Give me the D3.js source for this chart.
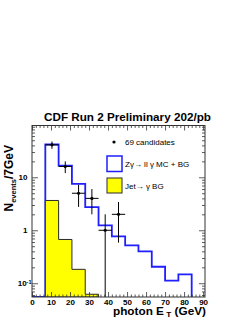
<!DOCTYPE html>
<html>
<head>
<meta charset="utf-8">
<script src="https://cdn.jsdelivr.net/npm/d3@7"></script>
<style>
  html, body { margin: 0; padding: 0; background: #fff; }
  svg { display: block; font-family: "Liberation Sans", Arial, Helvetica, sans-serif; }
</style>
</head>
<body>
<svg id="chart" width="246" height="319"></svg>
<script>
// ---- data ----
const binLowEdges = [7, 14, 21, 28, 35, 42, 49, 56, 63, 70, 77];
const binWidth = 7;
const zgammaMC = [41.6, 16.6, 7.5, 2.74, 1.24, 0.77, 0.52, 0.40, 0.205, 0.112, 0.147];
const jetBG = [3.65, 0.67, 0.183, 0.062];
const dataCenters = [10.5, 17.5, 24.5, 31.5, 38.5, 45.5];
const dataCounts = [41, 16, 5, 4, 1, 2];
const xTickValues = [0, 10, 20, 30, 40, 50, 60, 70, 80, 90];
const yTickValues = [0.1, 1, 10];
const legendLabels = ["69 candidates", "Z\u03b3\u2192 ll \u03b3 MC + BG", "Jet\u2192 \u03b3 BG"];
const titleText = "CDF Run 2 Preliminary 202/pb";

// ---- layout ----
const L = 32, R = 205, T = 125.5, B = 297;
const svg = d3.select("#chart");
const x = d3.scaleLinear().domain([0, 91]).range([L, R]);
const y = d3.scaleLog().domain([0.055, 95]).range([B, T]);
const yMin = y.domain()[0];
const blue = "#1f1fff";
const axisCol = "#333";

svg.append("defs").append("clipPath").attr("id", "plotclip")
  .append("rect").attr("x", L).attr("y", T).attr("width", R - L).attr("height", B - T);

const plot = svg.append("g").attr("clip-path", "url(#plotclip)");
const line = d3.line().x(d => x(d[0])).y(d => y(d[1]));

// blue histogram (Z gamma MC + BG)
const bluePts = [[0, yMin], [binLowEdges[0], yMin]];
zgammaMC.forEach((v, i) => {
  bluePts.push([binLowEdges[i], v]);
  bluePts.push([binLowEdges[i] + binWidth, v]);
});
bluePts.push([binLowEdges[zgammaMC.length - 1] + binWidth, yMin]);
plot.append("path").attr("d", line(bluePts))
  .attr("fill", "none").attr("stroke", blue).attr("stroke-width", 1.8);

// yellow histogram (jet BG)
const yelPts = [[binLowEdges[0], yMin]];
jetBG.forEach((v, i) => {
  yelPts.push([binLowEdges[i], v]);
  yelPts.push([binLowEdges[i] + binWidth, v]);
});
yelPts.push([binLowEdges[jetBG.length - 1] + binWidth, yMin]);
plot.append("path").attr("d", line(yelPts) + "Z")
  .attr("fill", "#ffff00").attr("stroke", "#2a2a2a").attr("stroke-width", 1);

// data points with errors
const pts = plot.append("g");
dataCenters.forEach((c, i) => {
  const n = dataCounts[i];
  const e = Math.sqrt(n);
  const lo = Math.max(n - e, yMin / 10);
  pts.append("line").attr("x1", x(c)).attr("x2", x(c))
    .attr("y1", y(n + e)).attr("y2", y(lo))
    .attr("stroke", "#000").attr("stroke-width", 1);
  pts.append("line").attr("x1", x(c - binWidth / 2)).attr("x2", x(c + binWidth / 2))
    .attr("y1", y(n)).attr("y2", y(n))
    .attr("stroke", "#000").attr("stroke-width", 1);
  pts.append("circle").attr("cx", x(c)).attr("cy", y(n)).attr("r", 1.6).attr("fill", "#000");
});

// ---- axes ----
const minorX = d3.range(0, 92, 2).filter(v => v % 10 !== 0);
const yMinor = y.ticks().filter(v => !yTickValues.some(t => Math.abs(t - v) < 1e-9));

function style(g) {
  g.select(".domain").remove();
  g.selectAll(".tick line").attr("stroke", axisCol).attr("stroke-width", 0.8);
}

// bottom
svg.append("g").attr("transform", `translate(0,${B})`)
  .call(d3.axisBottom(x).tickValues(minorX).tickSize(-2.5).tickFormat(""))
  .call(style);
const xb = svg.append("g").attr("transform", `translate(0,${B})`)
  .call(d3.axisBottom(x).tickValues(xTickValues).tickSize(-5).tickPadding(2.2).tickFormat(d3.format("d")))
  .call(style);
xb.selectAll(".tick text").attr("font-size", 8).attr("font-weight", "bold")
  .attr("fill", "#000").attr("font-family", "Liberation Sans, Arial, sans-serif");

// top
svg.append("g").attr("transform", `translate(0,${T})`)
  .call(d3.axisTop(x).tickValues(minorX).tickSize(-2.5).tickFormat("")).call(style);
svg.append("g").attr("transform", `translate(0,${T})`)
  .call(d3.axisTop(x).tickValues(xTickValues).tickSize(-5).tickFormat("")).call(style);

// left
svg.append("g").attr("transform", `translate(${L},0)`)
  .call(d3.axisLeft(y).tickValues(yMinor).tickSize(-3).tickFormat("")).call(style);
const yl = svg.append("g").attr("transform", `translate(${L},0)`)
  .call(d3.axisLeft(y).tickValues(yTickValues).tickSize(-6).tickPadding(4.5)
    .tickFormat(d => d < 1 ? "10" : d3.format("d")(d)))
  .call(style);
yl.selectAll(".tick text").attr("font-size", 8).attr("font-weight", "bold")
  .attr("fill", "#000").attr("font-family", "Liberation Sans, Arial, sans-serif");
yl.selectAll(".tick text").filter(d => d < 1)
  .attr("x", -0.5)
  .append("tspan").attr("dy", "-0.45em").attr("font-size", 5.5).text("-1");

// right
svg.append("g").attr("transform", `translate(${R},0)`)
  .call(d3.axisRight(y).tickValues(yMinor).tickSize(-3).tickFormat("")).call(style);
svg.append("g").attr("transform", `translate(${R},0)`)
  .call(d3.axisRight(y).tickValues(yTickValues).tickSize(-6).tickFormat("")).call(style);

// frame
svg.append("rect").attr("x", L).attr("y", T).attr("width", R - L).attr("height", B - T)
  .attr("fill", "none").attr("stroke", axisCol).attr("stroke-width", 1);

// ---- texts ----
svg.append("text").attr("x", 44).attr("y", 121)
  .attr("font-size", 11.7).attr("font-weight", "bold").attr("fill", "#000")
  .text(titleText);

const xt = svg.append("text").attr("x", 113).attr("y", 314.5)
  .attr("font-size", 10).attr("font-weight", "bold").attr("fill", "#000")
  .attr("textLength", 93).attr("lengthAdjust", "spacingAndGlyphs");
xt.append("tspan").text("photon E");
xt.append("tspan").attr("dx", 2).attr("dy", 2.5).attr("font-size", 7).text("T");
xt.append("tspan").attr("dy", -2.5).text(" (GeV)");

const yt = svg.append("text").attr("transform", "translate(12.5,145) rotate(-90)")
  .attr("text-anchor", "end")
  .attr("font-size", 12).attr("font-weight", "bold").attr("fill", "#000");
yt.append("tspan").text("N");
yt.append("tspan").attr("dy", 3).attr("font-size", 7.5).text("events");
yt.append("tspan").attr("dy", -3).text("/7GeV");

// ---- legend ----
const lg = svg.append("g");
lg.append("circle").attr("cx", 114).attr("cy", 142).attr("r", 1.6).attr("fill", "#000");
lg.append("text").attr("x", 125).attr("y", 144.5).attr("font-size", 8).attr("fill", "#000").text(legendLabels[0]);
lg.append("rect").attr("x", 107).attr("y", 156).attr("width", 15).attr("height", 15.5)
  .attr("fill", "#fff").attr("stroke", blue).attr("stroke-width", 1.5);
lg.append("text").attr("x", 125).attr("y", 166.5).attr("font-size", 8).attr("fill", "#000").text(legendLabels[1]);
lg.append("rect").attr("x", 107).attr("y", 178).attr("width", 15).attr("height", 15)
  .attr("fill", "#ffff00").attr("stroke", "#2a2a2a").attr("stroke-width", 1);
lg.append("text").attr("x", 125).attr("y", 188.5).attr("font-size", 8).attr("fill", "#000").text(legendLabels[2]);
</script>
</body>
</html>
